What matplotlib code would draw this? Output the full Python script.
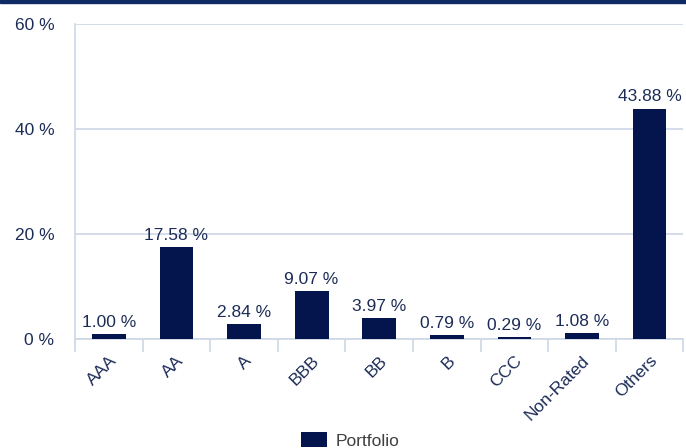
import matplotlib.pyplot as plt
from matplotlib.patches import Rectangle
from matplotlib.ticker import FixedLocator

categories = ["AAA", "AA", "A", "BBB", "BB", "B", "CCC", "Non-Rated", "Others"]
portfolio = [1.00, 17.58, 2.84, 9.07, 3.97, 0.79, 0.29, 1.08, 43.88]
yticks = [0, 20, 40, 60]

bar_color = "#04144c"
text_color = "#1c2c57"
line_color = "#cdd7e6"

plt.rcParams["font.family"] = ["Liberation Sans", "DejaVu Sans"]
plt.rcParams["font.size"] = 12.5

fig = plt.figure(figsize=(6.86, 4.48), dpi=100)
ax = fig.add_axes([75 / 686, 1 - 339 / 448, 608.4 / 686, 315 / 448])

x = range(len(categories))
bars = ax.bar(x, portfolio, width=0.5, color=bar_color, label="Portfolio", zorder=3)

for xi, v in zip(x, portfolio):
    ax.annotate(f"{v:.2f} %", (xi, v), xytext=(0, 3), textcoords="offset points",
                ha="center", va="bottom", color=text_color)

ax.set_xlim(-0.5, len(categories) - 0.5)
ax.set_ylim(0, 60)
ax.set_yticks(yticks)
ax.set_yticklabels([f"{t} %" for t in yticks])
ax.yaxis.grid(True, color=line_color, linewidth=1.2, zorder=0)
ax.tick_params(axis="y", length=0, pad=15, labelcolor=text_color)

ax.set_xticks(list(x))
ax.set_xticklabels(categories, rotation=45, ha="right", va="top",
                   rotation_mode="anchor", color=text_color)
ax.tick_params(axis="x", which="major", length=0, pad=10)
ax.xaxis.set_minor_locator(FixedLocator([i - 0.5 for i in range(len(categories) + 1)]))
ax.tick_params(axis="x", which="minor", length=9.5, width=1.2, color=line_color)

for side in ["top", "right"]:
    ax.spines[side].set_visible(False)
for side in ["left", "bottom"]:
    ax.spines[side].set_color(line_color)
    ax.spines[side].set_linewidth(1.2)

fig.legend(handles=[bars], labels=["Portfolio"], loc="upper center",
           bbox_to_anchor=(0.51, 1 - 418 / 448), frameon=False, handlelength=1.5,
           handleheight=1.0, handletextpad=0.5, labelcolor="#404040", borderpad=0.3)

fig.add_artist(Rectangle((0, 1 - 3 / 448), 1, 3 / 448, transform=fig.transFigure,
                         color="#0e2a63", clip_on=False))

fig.savefig("out.png", dpi=100)
